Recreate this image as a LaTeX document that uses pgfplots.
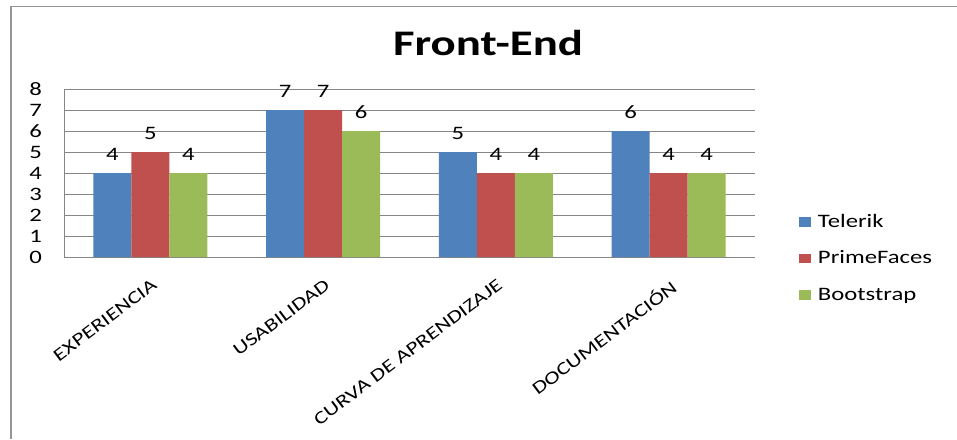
\documentclass[border=0pt]{standalone}
\usepackage{fontspec}
\setmainfont{Carlito}[FakeStretch=1.3]
\usepackage{pgfplots}
\pgfplotsset{compat=1.18}
\definecolor{cBlue}{HTML}{4F81BD}
\definecolor{cRed}{HTML}{C0504D}
\definecolor{cGreen}{HTML}{9BBB59}
\definecolor{cGrid}{RGB}{134,134,134}
\definecolor{cFrame}{RGB}{150,150,150}
\begin{document}
\begin{tikzpicture}
\useasboundingbox (0,0) rectangle (957pt,439pt);
\fill[white] (0,0) rectangle (957pt,439pt);
\draw[cFrame, line width=1.5pt] (11pt,0pt) -- (11pt,432.5pt) -- (957pt,432.5pt);
\node[anchor=base, inner sep=0pt] at (488pt,383pt) {\fontsize{36}{40}\selectfont\bfseries Front-End};
\begin{axis}[
  at={(64pt,182pt)}, anchor=south west,
  scale only axis, width=691pt, height=168pt,
  ybar=0pt, bar width=38pt,
  xmin=-0.5, xmax=3.5, ymin=0, ymax=8,
  xtick={0,1,2,3},
  xticklabels={EXPERIENCIA, USABILIDAD, CURVA DE APRENDIZAJE, DOCUMENTACIÓN},
  ytick={0,1,...,8},
  major tick length=0pt,
  axis x line*=bottom, axis y line*=left,
  axis line style={cGrid, line width=1pt, -},
  ymajorgrids, major grid style={cGrid, line width=1pt},
  /pgf/number format/assume math mode=true,
  tick label style={font=\fontsize{19}{22}\selectfont},
  yticklabel style={anchor=east, inner sep=0pt, xshift=-22pt},
  xticklabel style={font=\fontsize{18}{21}\selectfont, rotate=37, anchor=north east, inner sep=0pt, xshift=-12pt, yshift=-17pt},
  nodes near coords,
  every node near coord/.append style={font=\fontsize{19}{22}\selectfont, anchor=base, inner sep=0pt, yshift=13pt},
  legend style={draw=none, fill=none, at={(1.059,0.274)}, anchor=north west,
     font=\fontsize{19}{22}\selectfont, legend cell align=left,
     nodes={inner sep=0pt, text height=14pt, text depth=4pt}, row sep=18.5pt,
     /tikz/every odd column/.append style={column sep=7pt}},
  legend image code/.code={\path[#1, draw=none] (0pt,-4.5pt) rectangle (12pt,5pt);},
]
\addplot[fill=cBlue, draw=none] coordinates {(0,4) (1,7) (2,5) (3,6)};
\addplot[fill=cRed, draw=none] coordinates {(0,5) (1,7) (2,4) (3,4)};
\addplot[fill=cGreen, draw=none] coordinates {(0,4) (1,6) (2,4) (3,4)};
\legend{Telerik, PrimeFaces, Bootstrap}
\end{axis}
\end{tikzpicture}
\end{document}
